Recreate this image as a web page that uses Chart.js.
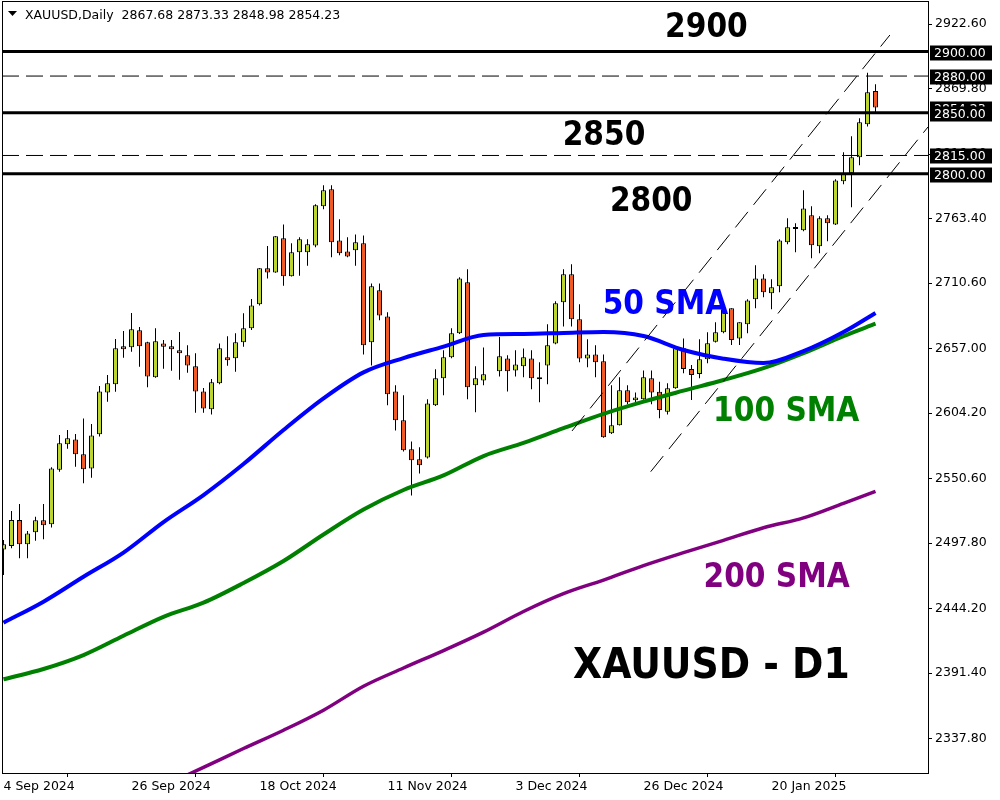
<!DOCTYPE html>
<html>
<head>
<meta charset="utf-8">
<script src="https://cdn.jsdelivr.net/npm/chart.js@4.4.1/dist/chart.umd.min.js"></script>
<style>
  html, body { margin: 0; padding: 0; background: #fff; }
  #wrap { width: 1000px; height: 800px; }
</style>
</head>
<body>
<div id="wrap"><canvas id="chart" width="1000" height="800"></canvas></div>
<script>
// XAUUSD daily candles, 4 Sep 2024 .. 6 Feb 2025 (index = trading day, null = no bar)
const opens = [
  2492.6, 2495.4, 2516.7, 2496.7, 2506.6, 2516.4, 2513.1, 2557.8, 2578.6, 2582.6,
  2570.4, 2558.9, 2586.8, 2621.1, 2627.7, 2658.8, 2658.0, 2671.9, 2662.1, 2633.4,
  2661.2, 2658.8, 2655.5, 2651.4, 2642.4, 2621.9, 2607.2, 2628.5, 2649.8, 2649.0,
  2662.1, 2673.5, 2693.2, 2722.6, 2719.3, 2747.2, 2716.1, 2735.7, 2735.7, 2741.4,
  2773.4, 2787.3, 2745.5, 2736.5, 2737.4, 2743.1, 2662.1, 2704.6, 2683.3, 2621.9,
  2598.2, 2574.5, 2566.3, 2567.9, 2610.5, 2632.6, 2649.8, 2669.4, 2711.2, 2626.9,
  2630.9, null,   2638.3, 2648.9, 2639.1, 2642.4, 2648.9, 2631.8, 2643.2, 2661.2,
  2694.8, 2717.7, 2680.9, 2648.9, 2652.2, 2646.5, 2587.6, 2594.1, 2622.8, 2614.6,
  2615.4, 2632.6, 2621.7, 2605.3, 2624.4, 2657.2, 2640.2, 2636.2, 2648.2, 2662.6,
  2670.3, 2689.9, 2665.3, 2676.8, 2697.3, 2714.4, 2702.2, 2707.9, 2743.9, 2755.3,
  2753.7, 2766.0, 2740.6, 2763.6, 2758.6, 2793.8, 2800.4, 2813.5, 2840.5, 2867.68
];
const highs = [
  2500.3, 2524.0, 2529.7, 2507.6, 2519.4, 2529.7, 2559.8, 2586.2, 2590.3, 2587.0,
  2599.8, 2595.2, 2626.3, 2635.3, 2664.8, 2671.3, 2686.1, 2674.6, 2662.5, 2673.5,
  2664.0, 2664.0, 2670.5, 2659.6, 2653.1, 2624.7, 2632.0, 2661.2, 2667.0, 2669.4,
  2685.8, 2697.5, 2723.0, 2740.9, 2749.0, 2758.6, 2743.1, 2748.0, 2746.4, 2775.0,
  2790.6, 2790.6, 2762.7, 2748.0, 2750.4, 2749.6, 2710.3, 2710.3, 2686.6, 2626.9,
  2618.7, 2581.0, 2576.1, 2615.4, 2640.0, 2655.5, 2673.5, 2715.3, 2721.8, 2642.4,
  2657.9, null,   2666.4, 2651.4, 2655.5, 2657.1, 2655.5, 2645.7, 2676.8, 2695.6,
  2721.8, 2725.9, 2693.2, 2664.5, 2659.6, 2652.2, 2626.9, 2633.4, 2626.9, 2621.1,
  2639.1, 2639.1, 2629.9, 2628.5, 2658.5, 2665.3, 2643.5, 2664.5, 2670.3, 2678.4,
  2689.9, 2690.0, 2678.4, 2697.3, 2725.1, 2717.7, 2713.6, 2746.4, 2763.6, 2759.5,
  2786.5, 2773.4, 2765.2, 2766.0, 2795.5, 2817.6, 2830.7, 2845.4, 2882.7, 2873.33
];
const lows = [
  2471.6, 2493.5, 2485.3, 2485.3, 2499.7, 2500.8, 2510.6, 2556.2, 2575.0, 2560.3,
  2546.7, 2551.3, 2584.9, 2613.5, 2621.7, 2649.5, 2654.4, 2642.1, 2625.2, 2633.0,
  2640.5, 2638.9, 2631.5, 2637.2, 2604.5, 2604.5, 2602.9, 2627.7, 2642.9, 2638.0,
  2658.5, 2672.2, 2692.3, 2714.4, 2719.0, 2708.4, 2716.0, 2716.6, 2724.8, 2739.8,
  2770.9, 2731.6, 2733.3, 2731.6, 2724.8, 2652.2, 2643.2, 2680.1, 2610.5, 2590.0,
  2572.8, 2536.8, 2554.8, 2567.0, 2610.0, 2618.7, 2649.0, 2668.8, 2615.4, 2604.8,
  2626.9, null,   2634.2, 2621.9, 2634.2, 2633.4, 2623.6, 2613.0, 2627.7, 2660.4,
  2675.1, 2675.1, 2645.7, 2641.6, 2633.4, 2584.0, 2587.0, 2594.0, 2611.3, 2613.0,
  2615.0, 2611.3, 2599.9, 2603.0, 2624.0, 2636.7, 2614.9, 2632.6, 2644.9, 2662.0,
  2669.4, 2659.9, 2659.9, 2669.4, 2689.9, 2698.9, 2689.1, 2703.0, 2742.3, 2735.7,
  2753.0, 2730.8, 2734.9, 2744.7, 2758.0, 2791.4, 2772.6, 2806.9, 2838.8, 2848.98
];
const closes = [
  2496.7, 2516.7, 2496.7, 2505.7, 2516.4, 2512.3, 2558.9, 2579.4, 2583.5, 2570.4,
  2558.1, 2585.9, 2621.9, 2628.5, 2657.2, 2656.3, 2672.7, 2658.8, 2634.2, 2662.9,
  2658.5, 2656.3, 2653.1, 2643.2, 2621.9, 2608.0, 2629.3, 2657.2, 2647.3, 2662.1,
  2673.5, 2692.3, 2722.6, 2719.3, 2748.8, 2716.1, 2735.7, 2746.4, 2742.3, 2774.2,
  2786.5, 2743.9, 2734.9, 2732.4, 2743.9, 2659.6, 2707.9, 2684.1, 2619.5, 2598.2,
  2573.7, 2565.5, 2561.4, 2612.1, 2632.6, 2649.8, 2669.4, 2714.4, 2625.2, 2632.6,
  2635.9, null,   2650.6, 2638.3, 2644.0, 2649.8, 2632.6, 2633.4, 2659.6, 2694.0,
  2717.7, 2680.9, 2648.9, 2652.2, 2645.7, 2584.3, 2594.1, 2622.8, 2613.0, 2617.0,
  2633.4, 2621.1, 2606.7, 2624.4, 2657.2, 2640.2, 2635.3, 2648.2, 2661.3, 2670.3,
  2688.5, 2664.0, 2678.4, 2696.4, 2714.4, 2703.0, 2707.1, 2745.5, 2756.2, 2754.8,
  2771.7, 2741.5, 2763.6, 2759.5, 2794.6, 2800.4, 2813.5, 2842.1, 2866.7, 2854.23
];

// moving averages at these bar indices
const smaIdx = [0, 5, 10, 15, 20, 25, 30, 35, 40, 45, 50, 55, 60, 65, 70, 75, 80, 85, 90, 95, 100, 105, 109];
const sma50 = [2432.6, 2449.8, 2470.2, 2490.0, 2515.0, 2537.1, 2562.5, 2590.3, 2616.2, 2637.5, 2649.2, 2658.6,
  2668.1, 2668.9, 2669.7, 2670.5, 2667.2, 2655.8, 2648.7, 2645.1, 2654.9, 2670.5, 2686.1];
const sma100 = [2386.3, 2394.7, 2406.1, 2421.9, 2437.4, 2449.0, 2465.1, 2483.1, 2504.8, 2525.2, 2541.2, 2553.1,
  2569.0, 2579.8, 2591.8, 2603.5, 2613.5, 2622.5, 2631.2, 2640.9, 2653.2, 2667.2, 2677.3];
const sma200 = [null, null, null, null, 2298.9, 2314.2, 2329.6, 2344.6, 2361.0, 2380.6, 2395.5, 2409.8,
  2424.9, 2441.8, 2456.4, 2467.5, 2479.3, 2489.9, 2500.0, 2510.3, 2518.4, 2530.3, 2540.0];

// drawn objects
const solidLevels = [2900, 2850, 2800];
const dashedLevels = [2880, 2815];
const channelUpper = [{ x: 71.06, y: 2589.5 }, { x: 110.8, y: 2913.6 }];
const channelLower = [{ x: 80.9, y: 2556.2 }, { x: 115.56, y: 2838.3 }];
const boxLevels = [2900, 2880, 2850, 2815, 2800];
const lastPrice = 2854.23;

// axes
const yTicks = [2922.6, 2869.8, 2816.2, 2763.4, 2710.6, 2657.0, 2604.2, 2550.6, 2497.8, 2444.2, 2391.4, 2337.8];
const xTickIdx = [0, 16, 32, 48, 64, 80, 96];
const xTickLabels = ['4 Sep 2024', '26 Sep 2024', '18 Oct 2024', '11 Nov 2024', '3 Dec 2024', '26 Dec 2024', '20 Jan 2025'];
const headerText = 'XAUUSD,Daily  2867.68 2873.33 2848.98 2854.23';

// text objects: [text, bar index, price at baseline, colour, size]
const notes = [
  ['2900', 82.7, 2912.0, '#000000', 33],
  ['2850', 69.9, 2823.6, '#000000', 33],
  ['2800', 75.8, 2769.6, '#000000', 33],
  ['50 SMA', 74.9, 2685.3, '#0000ff', 33],
  ['100 SMA', 88.7, 2597.7, '#008000', 33],
  ['200 SMA', 87.5, 2461.8, '#800080', 33],
  ['XAUUSD - D1', 71.2, 2387.3, '#000000', 42]
];

const UP = '#bdd531';
const DOWN = '#f15a24';
const X_MIN = -0.1875, X_MAX = 115.5625;
const Y_MIN = 2309.58, Y_MAX = 2940.61;
const FONT = '"DejaVu Sans"';

// build candle parts
const wicks = [], bodies = [], bodyColors = [];
opens.forEach((o, i) => {
  if (o === null) return;
  wicks.push({ x: i, y: [lows[i], highs[i]] });
  bodies.push({ x: i, y: [o, closes[i]] });
  bodyColors.push(closes[i] >= o ? UP : DOWN);
});
const smaPoints = (vals) => smaIdx.map((x, k) => ({ x: x, y: vals[k] })).filter(p => p.y !== null);
const levelLine = (v) => [{ x: X_MIN, y: v }, { x: X_MAX, y: v }];

const datasets = [
  { type: 'bar', data: wicks, backgroundColor: '#000', borderWidth: 0, barThickness: 1, grouped: false, inflateAmount: 0, order: 10 },
  { type: 'bar', data: bodies, backgroundColor: bodyColors, borderColor: '#000', borderWidth: 1, borderSkipped: false,
    barThickness: 5, minBarLength: 2, grouped: false, inflateAmount: 0, order: 9 },
  { type: 'line', data: smaPoints(sma200), borderColor: '#800080', borderWidth: 3.5, pointRadius: 0, cubicInterpolationMode: 'monotone', order: 8 },
  { type: 'line', data: smaPoints(sma100), borderColor: '#008000', borderWidth: 4, pointRadius: 0, cubicInterpolationMode: 'monotone', order: 7 },
  { type: 'line', data: smaPoints(sma50), borderColor: '#0000ff', borderWidth: 4, pointRadius: 0, cubicInterpolationMode: 'monotone', order: 6 },
  { type: 'line', data: channelUpper, borderColor: '#000', borderWidth: 1, borderDash: [20, 9], pointRadius: 0, order: 5 },
  { type: 'line', data: channelLower, borderColor: '#000', borderWidth: 1, borderDash: [20, 9], pointRadius: 0, order: 5 }
];
dashedLevels.forEach(v => datasets.push({ type: 'line', data: levelLine(v), borderColor: '#000', borderWidth: 1,
  borderDash: [17, 7], pointRadius: 0, order: 4 }));
solidLevels.forEach(v => datasets.push({ type: 'line', data: levelLine(v), borderColor: '#000', borderWidth: 3,
  pointRadius: 0, order: 3 }));

const overlay = {
  id: 'overlay',
  afterDraw(chart) {
    const { ctx, chartArea: a, scales: { x, y } } = chart;
    ctx.save();
    // frame
    ctx.strokeStyle = '#000';
    ctx.lineWidth = 1;
    ctx.strokeRect(a.left + 0.5, a.top - 0.5, a.right - a.left, a.bottom - a.top + 1);

    // header
    ctx.fillStyle = '#000';
    ctx.beginPath();
    ctx.moveTo(8, 11); ctx.lineTo(17, 11); ctx.lineTo(12.5, 16); ctx.closePath();
    ctx.fill();
    ctx.font = '12.5px ' + FONT;
    ctx.textBaseline = 'alphabetic';
    ctx.fillText(headerText, 25, 19);

    // text objects
    notes.forEach(([t, i, p, c, s]) => {
      ctx.font = 'bold ' + s + 'px "DejaVu Sans Condensed", "DejaVu Sans"';
      ctx.fillStyle = c;
      ctx.fillText(t, x.getPixelForValue(i), y.getPixelForValue(p));
    });

    // price boxes on the axis
    ctx.font = '12.5px ' + FONT;
    ctx.textBaseline = 'middle';
    [lastPrice].concat(boxLevels).forEach(v => {
      const yy = Math.round(y.getPixelForValue(v)) + 1;
      ctx.fillStyle = '#000';
      ctx.fillRect(a.right + 2, yy - 7.5, 62, 15);
      ctx.fillStyle = '#fff';
      ctx.fillText(v.toFixed(2), a.right + 6, yy + 0.5);
    });
    ctx.restore();
  }
};

const noPad = (s) => { s.paddingTop = 0; s.paddingBottom = 0; s.paddingLeft = 0; s.paddingRight = 0; };

new Chart(document.getElementById('chart'), {
  type: 'bar',
  data: { datasets },
  options: {
    responsive: false,
    animation: false,
    devicePixelRatio: 1,
    layout: { padding: { left: 2, top: 2, right: 0, bottom: 0 } },
    plugins: { legend: { display: false }, tooltip: { enabled: false } },
    scales: {
      x: {
        type: 'linear', min: X_MIN, max: X_MAX, offset: false,
        afterBuildTicks: (s) => { s.ticks = xTickIdx.map(v => ({ value: v })); },
        afterFit: (s) => { s.height = 27; noPad(s); },
        grid: { drawOnChartArea: false, tickLength: 4, color: '#000' },
        border: { display: false },
        ticks: {
          autoSkip: false, maxRotation: 0, align: 'start', padding: 2, color: '#000',
          font: { family: 'DejaVu Sans', size: 12.5 },
          callback: (v, idx) => xTickLabels[idx]
        }
      },
      y: {
        type: 'linear', position: 'right', min: Y_MIN, max: Y_MAX,
        afterBuildTicks: (s) => { s.ticks = yTicks.map(v => ({ value: v })); },
        afterFit: (s) => { s.width = 72; noPad(s); },
        grid: { drawOnChartArea: false, tickLength: 4, color: '#000' },
        border: { display: false },
        ticks: {
          crossAlign: 'near', padding: 3, color: '#000',
          font: { family: 'DejaVu Sans', size: 12.5 },
          callback: (v) => Number(v).toFixed(2)
        }
      }
    }
  },
  plugins: [overlay]
});
</script>
</body>
</html>
